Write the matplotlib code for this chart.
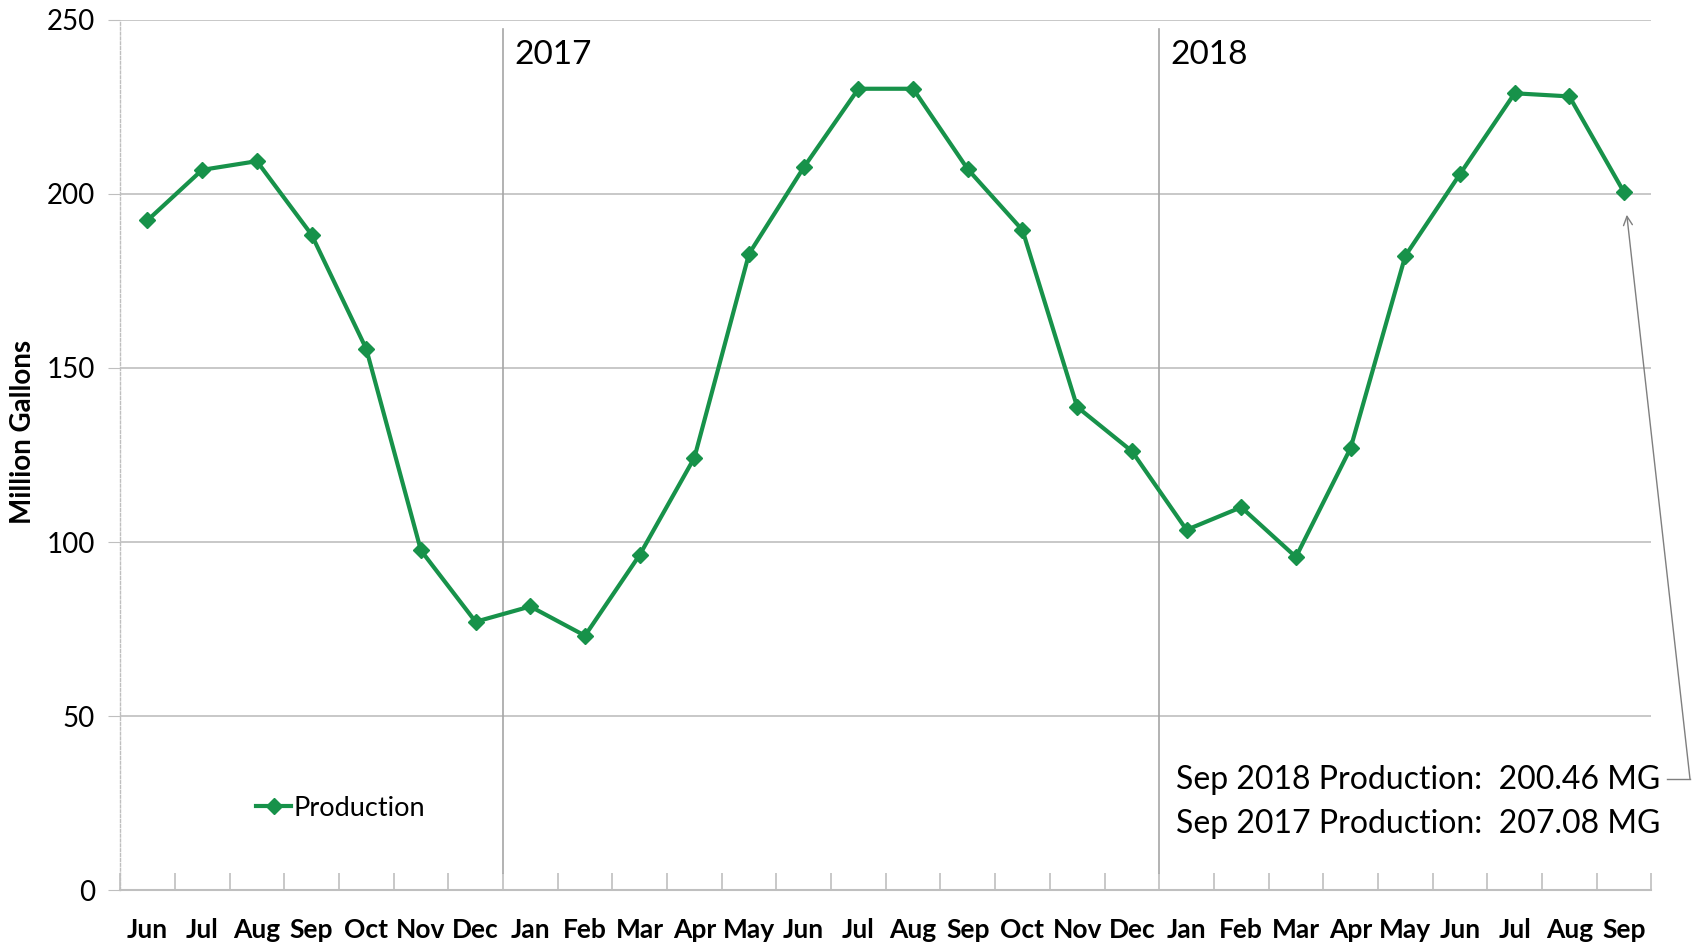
import matplotlib.pyplot as plt
from matplotlib.ticker import FixedLocator

plt.rcParams['font.family'] = ['Lato', 'DejaVu Sans']

# Monthly production, Jun 2016 - Sep 2018 (million gallons)
months = ['Jun', 'Jul', 'Aug', 'Sep', 'Oct', 'Nov', 'Dec',
          'Jan', 'Feb', 'Mar', 'Apr', 'May', 'Jun', 'Jul', 'Aug', 'Sep', 'Oct', 'Nov', 'Dec',
          'Jan', 'Feb', 'Mar', 'Apr', 'May', 'Jun', 'Jul', 'Aug', 'Sep']
production = [192.4, 206.9, 209.4, 188.3, 155.5, 97.6, 77.1,
              81.5, 73.1, 96.3, 124.2, 182.8, 207.6, 230.2, 230.2, 207.08, 189.6, 138.8, 126.1,
              103.5, 110.0, 95.7, 127.0, 182.2, 205.7, 228.9, 228.0, 200.46]
year_labels = ['2017', '2018']
year_start = [7, 19]
note_lines = ['Sep 2018 Production:  200.46 MG', 'Sep 2017 Production:  207.08 MG']

green = '#17924a'
grid_gray = '#bfbfbf'

fig = plt.figure(figsize=(16.92, 9.44), dpi=100)
ax = fig.add_axes([0.071, 0.057, 0.905, 0.922])

x = list(range(len(months)))
ax.plot(x, production, color=green, lw=3.0, marker='D', markersize=8, label='Production')

ax.set_xlim(-0.5, len(months) - 0.5)
ax.set_ylim(0, 250)

# y axis
ax.set_yticks([0, 50, 100, 150, 200, 250])
ax.tick_params(axis='y', length=9, color=grid_gray, labelsize=20, pad=9)
ax.yaxis.grid(True, color=grid_gray, lw=1.2)
ax.set_axisbelow(True)
ax.set_ylabel('Million Gallons', fontsize=20, fontweight='bold')
ax.yaxis.set_label_coords(-0.055, 0.526)

# x axis: labels at centers, ticks at boundaries
ax.set_xticks(x)
ax.set_xticklabels(months, fontsize=19, fontweight='bold')
ax.tick_params(axis='x', which='major', length=0, pad=20)
ax.xaxis.set_minor_locator(FixedLocator([i - 0.5 for i in range(len(months) + 1)]))
ax.tick_params(axis='x', which='minor', direction='in', length=12, color=grid_gray, width=1.2)

for s in ['top', 'right']:
    ax.spines[s].set_visible(False)
ax.spines['bottom'].set_color(grid_gray)
ax.spines['bottom'].set_linewidth(1.5)
ax.spines['left'].set_color(grid_gray)
ax.spines['left'].set_linestyle((0, (2, 1.5)))
ax.spines['left'].set_linewidth(1.0)

# year separators
for lbl, pos in zip(year_labels, year_start):
    ax.plot([pos - 0.5, pos - 0.5], [5, 247.5], color='#a6a6a6', lw=1.2, zorder=1)
    ax.text(pos - 0.3, 240, lbl, fontsize=24, va='center', ha='left')

# annotation
ax.text(18.8, 31.6, note_lines[0], fontsize=23, va='center', ha='left')
ax.text(18.8, 18.9, note_lines[1], fontsize=23, va='center', ha='left')
ax.annotate('', xy=(27.05, 194), xycoords='data',
            xytext=(1690, 944 - 779), textcoords='figure pixels',
            arrowprops=dict(arrowstyle='->', color='#7f7f7f', lw=1.0, shrinkA=0, shrinkB=0,
                            mutation_scale=16))
fig.add_artist(plt.Line2D([1667 / 1692, 1690 / 1692], [1 - 779 / 944, 1 - 779 / 944],
                          color='#7f7f7f', lw=1.0, transform=fig.transFigure))

leg = ax.legend(loc='center left', bbox_to_anchor=(256 / 1692, 1 - 808 / 944),
                bbox_transform=fig.transFigure, frameon=False, fontsize=19.5,
                handlelength=1.3, handletextpad=0.1, borderpad=0, borderaxespad=0)

fig.savefig('out.png', dpi=100)
